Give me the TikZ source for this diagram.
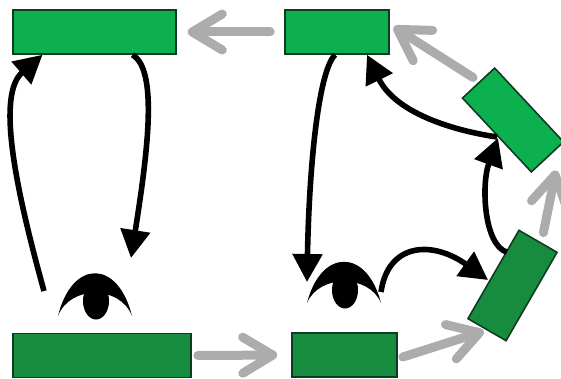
\documentclass[tikz,border=0pt]{standalone}
\usepackage{xcolor}
\usetikzlibrary{arrows.meta,shapes.geometric}
\definecolor{topgreen}{RGB}{12,176,78}
\definecolor{lowgreen}{RGB}{24,140,62}
\definecolor{edgegreen}{RGB}{14,60,34}
\definecolor{flowgray}{RGB}{172,172,172}

\begin{document}
\begin{tikzpicture}[
  x=1pt, y=-1pt,
  upperbox/.style={rectangle, draw=edgegreen, line width=1.6pt, fill=topgreen, inner sep=0pt, minimum height=44pt},
  lowerbox/.style={rectangle, draw=edgegreen, line width=1.6pt, fill=lowgreen, inner sep=0pt, minimum height=44pt},
  pupil/.style={ellipse, fill=black, inner sep=0pt, minimum width=26pt, minimum height=37pt},
  look/.style={draw=black, line width=5.6pt, -{Triangle[length=28pt, width=29pt]}},
  flow/.style={draw=flowgray, line width=9pt, line cap=round, -{Straight Barb[length=30pt, width=36pt, round]}}
]
\useasboundingbox (0,0) rectangle (561,379);

% Nodes
\node[upperbox, minimum width=163pt] (memoL) at (94.5,32) {};
\node[upperbox, minimum width=104pt] (memoR) at (337,32) {};
\node[upperbox, minimum width=101pt, rotate=-47] (memoT) at (513,120) {};
\node[lowerbox, minimum width=102pt, rotate=60] (stageT) at (512.5,285.5) {};
\node[lowerbox, minimum width=178pt] (stageL) at (102,355.5) {};
\node[lowerbox, minimum width=105pt] (stageR) at (344.5,355) {};
\node[pupil] (eyeL) at (96,301) {};
\node[pupil] (eyeR) at (345,290) {};
\coordinate (gazeL) at (44,291);

% Eyelids
\foreach \eye/\dy in {eyeL/15,eyeR/13}
  \fill[shift={(\eye)}] (-38,\dy) .. controls (-24,-42) and (22,-42) .. (36,\dy)
    .. controls (24,-16) and (-26,-16) .. cycle;

% Black edges
\draw[look] (gazeL) .. controls (16,190) and (-4,95) .. ([xshift=-52pt]memoL.south);
\draw[look] ([xshift=38pt]memoL.south) .. controls (158,70) and (148,150) .. (131,258);
\draw[look] ([xshift=-2pt]memoR.south) .. controls (318,72) and (309,170) .. (307,282);
\draw[look] ([xshift=36pt,yshift=-2pt]eyeR.center) .. controls (388,243) and (432,240) .. (488,280);
\draw[look] ([xshift=14pt,yshift=22pt]stageT.north) .. controls (484,245) and (481,185) .. (498,138);
\draw[look] ([xshift=-16pt,yshift=-17pt]memoT.center) .. controls (450,130) and (395,112) .. ([xshift=30pt]memoR.south);

% Gray edges
\draw[flow, shorten <=14pt, shorten >=11pt] (memoR.west) -- (memoL.east);
\draw[flow, shorten <=6pt, shorten >=14pt] (stageL.east) -- (stageR.west);
\draw[flow, shorten >=3pt] ([xshift=5pt,yshift=-2pt]stageR.east) -- (stageT.west);
\draw[flow] ([xshift=5pt,yshift=8pt]stageT.east) -- ([xshift=8pt,yshift=-13pt]memoT.east);
\draw[flow] ([xshift=-5pt,yshift=5pt]memoT.west) -- ([xshift=4pt]memoR.north east |- 0,27);
\end{tikzpicture}
\end{document}
